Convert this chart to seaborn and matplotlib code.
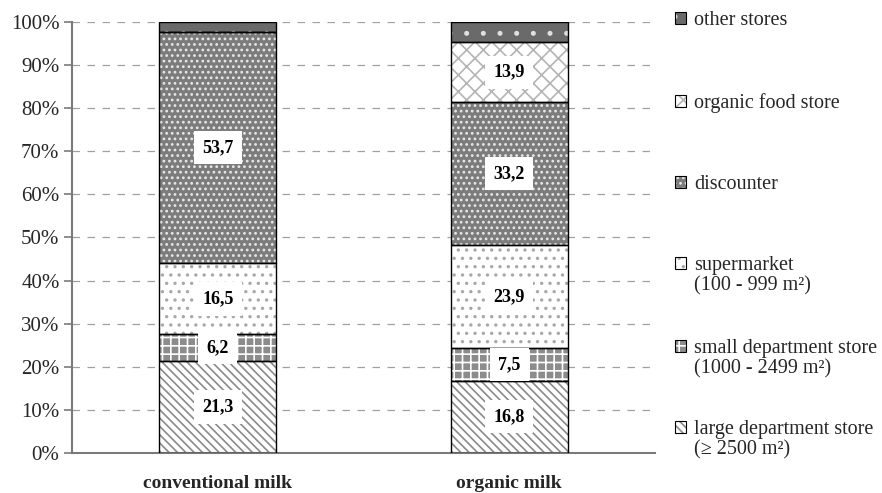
import matplotlib
matplotlib.use("Agg")
import matplotlib.pyplot as plt
import seaborn as sns
import pandas as pd
import numpy as np
from matplotlib.patches import Patch

categories = ["conventional milk", "organic milk"]
segments = ["large department store\n(\u2265 2500 m\u00b2)",
            "small department store\n(1000 - 2499 m\u00b2)",
            "supermarket\n(100 - 999 m\u00b2)",
            "discounter",
            "organic food store",
            "other stores"]
large_dept = [21.3, 16.8]
small_dept = [6.2, 7.5]
supermarket = [16.5, 23.9]
discounter = [53.7, 33.2]
organic_store = [0.0, 13.9]
other_stores = [2.3, 4.7]
show_label = [True, True, True, True, True, False]
yticks = [0, 10, 20, 30, 40, 50, 60, 70, 80, 90, 100]

series = [large_dept, small_dept, supermarket, discounter, organic_store, other_stores]
# (face, hatch, hatchcolor)
styles = [
    ("#ffffff", "\\\\\\\\", "#8a8a8a"),
    ("#8c8c8c", "++", "#ffffff"),
    ("#ffffff", "..", "#a8a8a8"),
    ("#7c7c7c", "...", "#e8e8e8"),
    ("#ffffff", "xx", "#b4b4b4"),
    ("#6a6a6a", ".", "#e0e0e0"),
]

sns.set_theme(style="white")
plt.rcParams["font.family"] = ["Liberation Serif", "DejaVu Serif"]
plt.rcParams["hatch.linewidth"] = 1.2

fig = plt.figure(figsize=(8.82, 4.93), dpi=100)
ax = fig.add_axes([72 / 882, 40 / 493, (655 - 72) / 882, (453 - 22) / 493])

bottoms = np.zeros(len(categories))
for vals, (face, hatch, hc), show in zip(series, styles, show_label):
    df = pd.DataFrame({"milk": categories, "value": vals})
    sns.barplot(data=df, x="milk", y="value", order=categories, color=face,
                saturation=1, width=0.4, bottom=bottoms, hatch=hatch,
                edgecolor=hc, linewidth=0, ax=ax, zorder=2, errorbar=None)
    sns.barplot(data=df, x="milk", y="value", order=categories, color="#000000",
                fill=False, saturation=1, width=0.4, bottom=bottoms,
                linewidth=1.0, ax=ax, zorder=3, errorbar=None)
    if show:
        for i, v in enumerate(vals):
            if v > 0:
                ax.text(i, bottoms[i] + v / 2, f"{v:.1f}".replace(".", ","),
                        ha="center", va="center", fontsize=13, fontweight="bold",
                        color="black", zorder=5,
                        bbox=dict(boxstyle="square,pad=0.45", fc="white", ec="none"))
    bottoms = bottoms + np.array(vals)

ax.set_ylim(0, 100)
ax.set_xlim(-0.5, 1.5)
ax.set_yticks(yticks)
ax.set_yticklabels([f"{t}%" for t in yticks], fontsize=15)
ax.set_xticks(range(len(categories)))
ax.set_xticklabels(categories, fontsize=14, fontweight="bold")
ax.set_xlabel("")
ax.set_ylabel("")
for t in yticks[1:]:
    ax.axhline(t, color="#a0a0a0", lw=0.9, ls=(0, (6, 6)), zorder=1)
for s in ["top", "right"]:
    ax.spines[s].set_visible(False)
for s in ["left", "bottom"]:
    ax.spines[s].set_color("#7a7a7a")
    ax.spines[s].set_linewidth(1.5)
ax.tick_params(axis="y", which="both", left=True, length=6, color="#7a7a7a", width=1.2, pad=3)
ax.tick_params(axis="x", bottom=False, pad=10)

# legend entries (top to bottom); second lines placed as text below first line
legend_y = [18, 100, 182, 263, 346, 427]
line_gap = 22
order = list(range(len(segments)))[::-1]
for k, idx in enumerate(order):
    face, hatch, hc = styles[idx]
    h_fill = Patch(facecolor=face, hatch=hatch, edgecolor=hc, linewidth=0)
    h_edge = Patch(facecolor="none", edgecolor="black", linewidth=0.8)
    lines = segments[idx].split("\n")
    y = 1 - (legend_y[k] - 7) / 493
    fig.legend(handles=[(h_fill, h_edge)], labels=[lines[0]], loc="upper left",
               bbox_to_anchor=(675 / 882, y), frameon=False, fontsize=14.5,
               handlelength=0.55, handleheight=0.55, handletextpad=0.4,
               borderpad=0, borderaxespad=0)
    for j, extra in enumerate(lines[1:], start=1):
        fig.text(694 / 882, 1 - (legend_y[k] + j * line_gap + 1) / 493, extra,
                 ha="left", va="center", fontsize=14.5)

fig.savefig("out.png", dpi=100)
